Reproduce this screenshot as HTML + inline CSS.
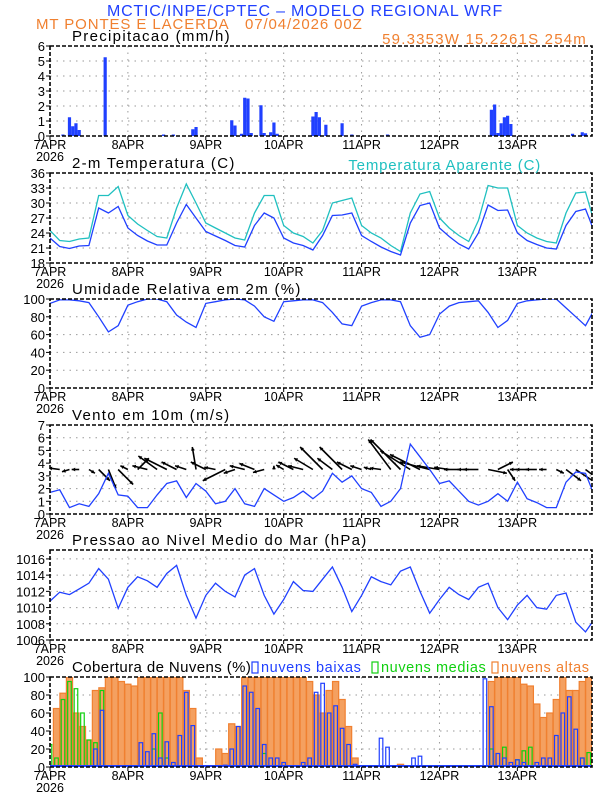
<!DOCTYPE html>
<html><head><meta charset="utf-8">
<style>
html,body{margin:0;padding:0;background:#fff;}
svg{display:block;font-family:"Liberation Sans",sans-serif;}
</style></head>
<body>
<svg id="chart" width="612" height="792" viewBox="0 0 612 792" xmlns="http://www.w3.org/2000/svg">
<text x="305" y="16" text-anchor="middle" font-size="16" letter-spacing="0.8" fill="#2040ff">MCTIC/INPE/CPTEC – MODELO REGIONAL WRF</text>
<text x="36" y="29" font-size="15" letter-spacing="0.9" fill="#f08030">MT PONTES E LACERDA</text>
<text x="245" y="29" font-size="15" letter-spacing="0.9" fill="#f08030">07/04/2026 00Z</text>
<text x="587" y="44" text-anchor="end" font-size="15" letter-spacing="1.2" fill="#f08030">59.3353W 15.2261S 254m</text>
<g id="plots"></g>
</svg>
<script>
// ---------- data ----------
const dayLabels = ["7APR","8APR","9APR","10APR","11APR","12APR","13APR"];
const hours3 = [0,3,6,9,12,15,18,21,24,27,30,33,36,39,42,45,48,51,54,57,60,63,66,69,72,75,78,81,84,87,90,93,96,99,102,105,108,111,114,117,120,123,126,129,132,135,138,141,144,147,150,153,156,159,162,165,168];
const precipHours = [4,6,7,8,9,17,35,38,44,45,56,57,59,60,61,62,65,66,68,69,70,81,82,83,85,90,93,104,136,137,138,139,140,141,142,161,164,165];
const precipVals  = [0.1,1.25,0.65,0.85,0.4,5.25,0.1,0.1,0.45,0.6,1.05,0.7,0.15,2.55,2.5,0.2,2.05,0.2,0.25,0.9,0.15,1.3,1.6,1.25,0.75,0.85,0.1,0.1,1.75,2.1,0.2,0.85,1.25,1.35,0.8,0.15,0.25,0.18];
const temp2m = [23,21.3,20.9,21.4,21.5,29,28,29.3,25,23.5,22.4,21.6,21.6,26,29.7,27,24.3,23.4,22.5,21.5,21.2,25.5,28,27,23,22,21.5,20.6,23.5,27.5,27.6,28,23.5,22.3,21.2,20.3,19.6,26,29.5,30,25,23.3,21.8,20.8,24,29.6,28.5,28.6,24,22.5,21.7,21,20.8,25.5,28.3,28.8,23.8];
const tempApp = [24.5,22.5,22.3,22.8,23,31.5,31.5,33.3,27.5,25.8,24.5,23.3,23,29,33.8,30,26,25,24,23,22.6,28,31.5,31.5,25.5,24,23.3,22,24.5,30,30.5,31,25.5,24,23,21.5,20.3,28,31.8,32.3,27,25,23.5,22.3,26.5,33.5,33,33,25.5,24,23,22.3,22,28,32,32.2,25.5];
const relHum = [95,99,99,98,96,80,63,70,93,97,100,100,97,82,74,68,95,97,99,100,99,92,80,75,97,98,99,99,96,85,72,70,92,96,99,99,97,70,57,60,83,92,96,97,98,85,68,76,95,98,99,100,100,90,80,70,90];
const windSpd = [1.7,1.9,0.5,0.8,0.6,1.6,3.2,1.5,1.4,0.5,0.5,1.5,2.4,2.6,1.3,2.4,1.8,0.8,1.0,2.0,0.8,0.6,2.0,1.5,1.0,1.3,1.8,1.2,1.8,3.2,2.5,3.0,2.0,1.7,0.6,1.0,2.0,5.5,4.5,3.5,2.4,2.6,1.8,1.0,0.7,1.0,1.6,1.0,2.5,1.2,0.9,0.5,0.5,2.5,3.3,3.2,1.3];
const windU = [-1,-1.5,-1,-1,0.8,1.5,1,2,-1,1.5,-2,-2.5,-3,-2,-1.5,-0.5,-2,-1.5,-3,-1.5,-2,-2,-1.5,0,-1,-2,-2,-2.5,-3,-2,-3,-2,-1.5,-1,-1.5,-3,-4,-4,-4,-4,-3,-2,-2,-1.5,-2,2.5,2,1,-1,-1.5,-1.5,-1,1,2,3,2,1];
const windV = [0,0.2,-0.3,0,-0.5,-1.5,-2.5,-2,0.5,1.5,0.5,1.8,1.5,1,0.5,3,1,0.3,-1.5,-0.5,0.5,0.8,-0.4,0.5,0.6,1,0.5,1.5,3,1.5,3,1,0.5,0.3,0.2,4,4,2.5,2,1,0.5,0.3,0,0,0,-0.5,1,-1.5,0,0,0,0,-0.5,-1.5,-2,-1.5,-1];
const pressure = [1010.8,1011.9,1011.6,1012.3,1013,1014.8,1013.5,1009.9,1012.5,1013.8,1013.3,1012.5,1014.2,1015.2,1011.5,1008.7,1011.5,1013,1012,1011.3,1014,1014.8,1011.5,1009.2,1011,1013.2,1012.1,1012,1013.5,1015,1012.5,1009.5,1011.5,1013.8,1013.2,1012.8,1014.5,1015,1012,1009.3,1011,1012.5,1011.6,1011,1012.5,1013,1010,1008.5,1010.3,1011.5,1010,1009.8,1011.5,1011.8,1008.2,1007,1008.7];
// cloud cover, 2-hourly from h0 to h166 (84 values)
const cloudHigh = [0,65,82,100,60,45,30,85,88,100,100,95,92,90,100,100,100,100,100,100,100,85,65,10,0,0,20,15,48,45,100,100,100,100,100,100,100,100,100,100,95,80,60,85,95,75,45,10,0,0,0,0,0,0,3,0,0,0,0,0,0,0,0,0,0,0,0,0,95,100,100,100,100,92,90,70,55,60,75,100,85,85,95,100];
const cloudLow  = [0,0,0,0,0,0,0,20,63,0,0,0,0,0,27,17,37,10,28,5,35,83,46,0,0,0,0,2,20,45,90,83,65,25,10,10,5,0,0,5,10,83,93,60,68,43,25,3,0,0,0,32,22,0,0,0,10,12,0,0,0,0,0,0,0,0,0,98,67,15,10,5,8,5,0,5,10,10,35,60,78,42,10,0];
const cloudMid  = [25,10,75,95,87,60,30,27,85,0,0,0,0,0,0,0,20,60,10,0,0,0,0,0,0,0,0,0,0,0,0,0,0,15,0,0,0,0,0,0,0,0,0,0,0,0,0,0,0,0,0,0,0,0,0,0,0,0,0,0,0,0,0,0,0,0,0,0,20,0,22,0,8,18,22,0,0,0,0,0,0,0,10,16];

// ---------- layout ----------
const NS="http://www.w3.org/2000/svg";
const X0=50, X1=592, HMAX=167;
const xs = h => X0 + h*(X1-X0)/HMAX;
const g = document.getElementById('plots');
function el(tag, attrs, parent){
  const e=document.createElementNS(NS,tag);
  for(const k in attrs) e.setAttribute(k,attrs[k]);
  (parent||g).appendChild(e); return e;
}
function txt(s,attrs,parent){const e=el('text',attrs,parent);e.textContent=s;return e;}

function panel(name, top, bot, ymin, ymax, ticks, title, ls){
  const grp=el('g',{});
  
  
  const ys=v=>bot-(v-ymin)/(ymax-ymin)*(bot-top);
  ticks.forEach(t=>{
    const y=ys(t);
    if(t!==ymin && t!==ymax){
      const l=el('line',{x1:X0,x2:X1,y1:y,y2:y,stroke:'#9a9a9a','stroke-width':1,'stroke-dasharray':'1.5,5'},grp);
      
      
    }
    el('line',{x1:X0-4,x2:X0,y1:y,y2:y,stroke:'#000','stroke-width':1},grp);
    const tl=txt(String(t),{x:X0-5,y:y+5,'text-anchor':'end','font-size':13,fill:'#000'},grp);
    
    
  });
  dayLabels.forEach((d,i)=>{
    const x=xs(i*24);
    if(i>0){
      const l=el('line',{x1:x,x2:x,y1:top,y2:bot,stroke:'#9a9a9a','stroke-width':1,'stroke-dasharray':'1.5,5'},grp);
      
      
    }
    el('line',{x1:x,x2:x,y1:bot,y2:bot+4,stroke:'#000','stroke-width':1},grp);
    const dl=txt(d,{x:x,y:bot+13,'text-anchor':'middle','font-size':12.5,fill:'#000'},grp);
    
    
  });
  const yr=txt('2026',{x:X0,y:bot+25,'text-anchor':'middle','font-size':12.5,fill:'#000'},grp);
  
  
  const tt=txt(title,{x:72,y:top-5,'font-size':15,'letter-spacing':(ls===undefined?1.3:ls),fill:'#000'},grp);
  
  
  const clipId='clip-'+name;
  const cp=el('clipPath',{id:clipId},grp);
  el('rect',{x:X0,y:top,width:X1-X0,height:bot-top},cp);
  const body=el('g',{'clip-path':'url(#'+clipId+')'},grp);
  const frame=el('rect',{x:X0,y:top,width:X1-X0,height:bot-top,fill:'none',stroke:'#000','stroke-width':1.6,'stroke-dasharray':'4,2'},grp);
  
  
  return {ys, body, grp, top, bot};
}
function line(p, hrs, vals, color, name){
  const d=vals.map((v,i)=>(i?'L':'M')+xs(hrs[i]).toFixed(1)+','+p.ys(v).toFixed(1)).join('');
  const e=el('path',{d, fill:'none', stroke:color,'stroke-width':1.3},p.body);
  
  
}

// Panel 1 precipitation
const p1=panel('precip',46,136,0,6,[0,1,2,3,4,5,6],'Precipitacao (mm/h)');
precipHours.forEach((h,i)=>{
  const y=p1.ys(precipVals[i]);
  const r=el('rect',{x:xs(h)-1.6,y:y,width:3.2,height:p1.bot-y,fill:'#2040ff'},p1.body);
  
  
});

// Panel 2 temperature
const p2=panel('temperature',173,263,18,36,[18,21,24,27,30,33,36],'2-m Temperatura (C)');
line(p2,hours3,tempApp,'#20c0c0','apparent-temperature-line');
line(p2,hours3,temp2m,'#2040ff','temperature-line');
const at=txt('Temperatura Aparente (C)',{x:541,y:170,'text-anchor':'end','font-size':15,'letter-spacing':0.8,fill:'#20c0c0'},p2.grp);



// Panel 3 RH
const p3=panel('humidity',299,388,0,100,[0,20,40,60,80,100],'Umidade Relativa em 2m (%)');
line(p3,hours3,relHum,'#2040ff','humidity-line');

// Panel 4 wind
const p4=panel('wind',425,514,0,7,[0,1,2,3,4,5,6,7],'Vento em 10m (m/s)');
const K=7.5;
hours3.forEach((h,i)=>{
  const x0=xs(h), y0=p4.ys(3.5);
  const x1=x0+windU[i]*K, y1=y0-windV[i]*K;
  const a=el('g',{},p4.body);
  
  
  el('line',{x1:x0,y1:y0,x2:x1,y2:y1,stroke:'#000','stroke-width':1.6},a);
  const ang=Math.atan2(y1-y0,x1-x0), hl=4;
  const p=[[x1,y1],[x1-hl*Math.cos(ang-0.5),y1-hl*Math.sin(ang-0.5)],[x1-hl*Math.cos(ang+0.5),y1-hl*Math.sin(ang+0.5)]];
  el('polygon',{points:p.map(q=>q[0].toFixed(1)+','+q[1].toFixed(1)).join(' '),fill:'#000'},a);
});
line(p4,hours3,windSpd,'#2040ff','wind-speed-line');

// Panel 5 pressure
const p5=panel('pressure',550,640,1006,1017.1,[1006,1008,1010,1012,1014,1016],'Pressao ao Nivel Medio do Mar (hPa)');
line(p5,hours3,pressure,'#2040ff','pressure-line');

// Panel 6 clouds
const p6=panel('clouds',677,767,0,100,[0,20,40,60,80,100],'Cobertura de Nuvens (%)',0.4);
const bw=2*(X1-X0)/HMAX;
function cloudBars(vals,fill,stroke,name,wfrac){
  vals.forEach((v,i)=>{
    if(v<=0) return;
    const h=i*2, y=p6.ys(v);
    const w=bw*wfrac;
    const r=el('rect',{x:xs(h)-w/2,y:y,width:w,height:p6.bot-y,fill:fill,stroke:stroke,'stroke-width':1.2},p6.body);
    
    
  });
}
cloudBars(cloudHigh,'#f4a060','#f08030','cloud-high-bar',0.95);
cloudBars(cloudMid,'none','#10d010','cloud-mid-bar',0.55);
cloudBars(cloudLow,'none','#2040ff','cloud-low-bar',0.55);
el('line',{x1:X0,x2:X1,y1:p6.bot-1,y2:p6.bot-1,stroke:'#2040ff','stroke-width':2},p6.body);
const leg=[['nuvens baixas','#2040ff',252],['nuvens medias','#10d010',372],['nuvens altas','#f08030',492]];
leg.forEach(l=>{
  const lg=el('g',{},p6.grp);
  
  
  el('rect',{x:l[2],y:662,width:6,height:11,fill:'none',stroke:l[1],'stroke-width':1.2},lg);
  txt(l[0],{x:l[2]+9,y:672,'font-size':14.5,'letter-spacing':0.6,fill:l[1]},lg);
});
</script>
</body></html>
